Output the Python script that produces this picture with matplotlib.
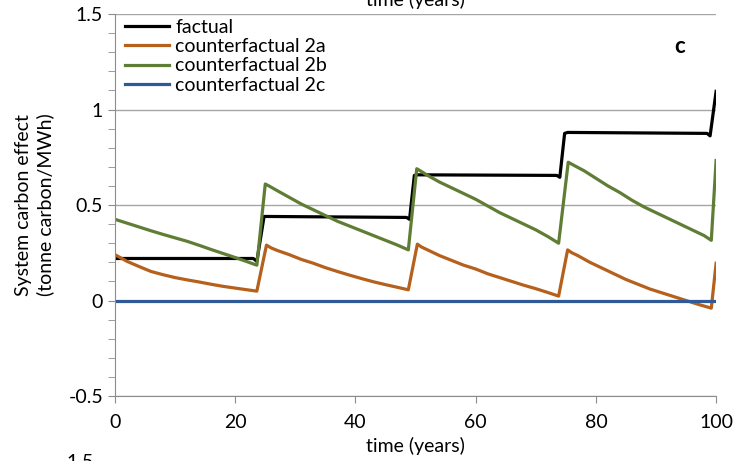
import numpy as np
import matplotlib
matplotlib.use("Agg")
import matplotlib.pyplot as plt
from matplotlib.ticker import MultipleLocator

plt.rcParams['font.family'] = ['Lato', 'DejaVu Sans']

# values
t_factual = [0, 23, 23.6, 24.8, 25.3, 48.5, 49.0, 49.8, 50.3, 73.5, 74.0, 74.8, 75.3,
             98.5, 99.0, 100]
y_factual = [0.22, 0.22, 0.205, 0.44, 0.44, 0.435, 0.425, 0.655, 0.658, 0.655, 0.645,
             0.875, 0.88, 0.875, 0.862, 1.095]

t_2a = [0, 2, 4, 6, 8, 10, 12, 14, 16, 18, 20, 22, 23.6,
        25.2, 26, 27, 29, 31, 33, 35, 37, 39, 41, 43, 45, 47, 48.8,
        50.3, 51, 52, 54, 56, 58, 60, 62, 64, 66, 68, 70, 72, 73.8,
        75.3, 76, 77, 79, 81, 83, 85, 87, 89, 91, 93, 95, 97, 99.2, 100]
y_2a = [0.24, 0.205, 0.178, 0.152, 0.135, 0.12, 0.108, 0.097, 0.085, 0.074, 0.065, 0.056, 0.049,
        0.29, 0.275, 0.262, 0.24, 0.215, 0.195, 0.172, 0.152, 0.133, 0.115, 0.098, 0.083, 0.069, 0.056,
        0.295, 0.28, 0.265, 0.235, 0.21, 0.185, 0.165, 0.14, 0.12, 0.1, 0.08, 0.062, 0.042, 0.023,
        0.265, 0.25, 0.235, 0.2, 0.17, 0.14, 0.11, 0.085, 0.06, 0.04, 0.02, 0.0, -0.02, -0.04, 0.195]

t_2b = [0, 2, 4, 6, 8, 10, 12, 14, 16, 18, 20, 22, 23.6,
        25.0, 25.6, 27, 29, 31, 33, 35, 37, 39, 41, 43, 45, 47, 48.8,
        50.2, 51, 52, 54, 56, 58, 60, 62, 64, 66, 68, 70, 72, 73.8,
        75.4, 76.5, 78, 80, 82, 84, 86, 88, 90, 92, 94, 96, 98, 99.2, 100]
y_2b = [0.425, 0.405, 0.385, 0.365, 0.346, 0.328, 0.31, 0.289, 0.267, 0.246, 0.225, 0.203, 0.185,
        0.61, 0.6, 0.575, 0.54, 0.505, 0.475, 0.445, 0.415, 0.39, 0.365, 0.34, 0.315, 0.29, 0.265,
        0.69, 0.675, 0.655, 0.62, 0.59, 0.56, 0.53, 0.495, 0.46, 0.43, 0.4, 0.37, 0.335, 0.30,
        0.724, 0.705, 0.68, 0.64, 0.6, 0.565, 0.525, 0.49, 0.46, 0.43, 0.4, 0.37, 0.34, 0.315, 0.733]

t_2c = [0, 100]
y_2c = [0, 0]

series = [
    ("factual", t_factual, y_factual, "black"),
    ("counterfactual 2a", t_2a, y_2a, "#B5601C"),
    ("counterfactual 2b", t_2b, y_2b, "#5F7D34"),
    ("counterfactual 2c", t_2c, y_2c, "#2F5A95"),
]

fs = 14

fig = plt.figure(figsize=(7.53, 4.61), dpi=100)
ax = fig.add_axes([0.1527, 0.141, 0.7983, 0.8286])

for label, t, y, c in series:
    ax.plot(t, y, color=c, lw=2.3, label=label, solid_joinstyle="round")

ax.set_xlim(0, 100)
ax.set_ylim(-0.5, 1.5)
ax.xaxis.set_major_locator(MultipleLocator(20))
ax.yaxis.set_minor_locator(MultipleLocator(0.1))
ax.set_yticks([-0.5, 0, 0.5, 1, 1.5])
ax.set_yticklabels(["-0.5", "0", "0.5", "1", "1.5"])

ax.grid(axis="y", color="#A6A6A6", lw=1)
ax.set_axisbelow(True)
for s in ["top", "right"]:
    ax.spines[s].set_visible(False)
for s in ["left", "bottom"]:
    ax.spines[s].set_color("#8C8C8C")
ax.tick_params(axis="both", which="both", color="#8C8C8C", direction="out",
               labelsize=fs)
ax.tick_params(axis="both", which="major", length=5)
ax.tick_params(axis="y", which="minor", length=5)
ax.tick_params(axis="x", pad=8)

ax.set_xlabel("time (years)", fontsize=fs, labelpad=4)
ax.set_ylabel("System carbon effect\n(tonne carbon/MWh)", fontsize=fs,
              labelpad=10, linespacing=1.3)

ax.legend(loc="upper left", frameon=False, fontsize=fs, handlelength=2.3,
          handletextpad=0.3, labelspacing=0.12, borderaxespad=0.0,
          bbox_to_anchor=(0.003, 1.008))

ax.text(0.94, 0.914, "c", transform=ax.transAxes, fontsize=16, fontweight="bold",
        ha="center", va="center")

# pieces of the neighbouring panels cut off by the figure edges
fig.text(0.552, 0.988, "time (years)", fontsize=fs, ha="center", va="baseline")
fig.text(0.124, 0.016, "1.5", fontsize=fs, ha="right", va="top")

fig.savefig("out.png", dpi=100)
